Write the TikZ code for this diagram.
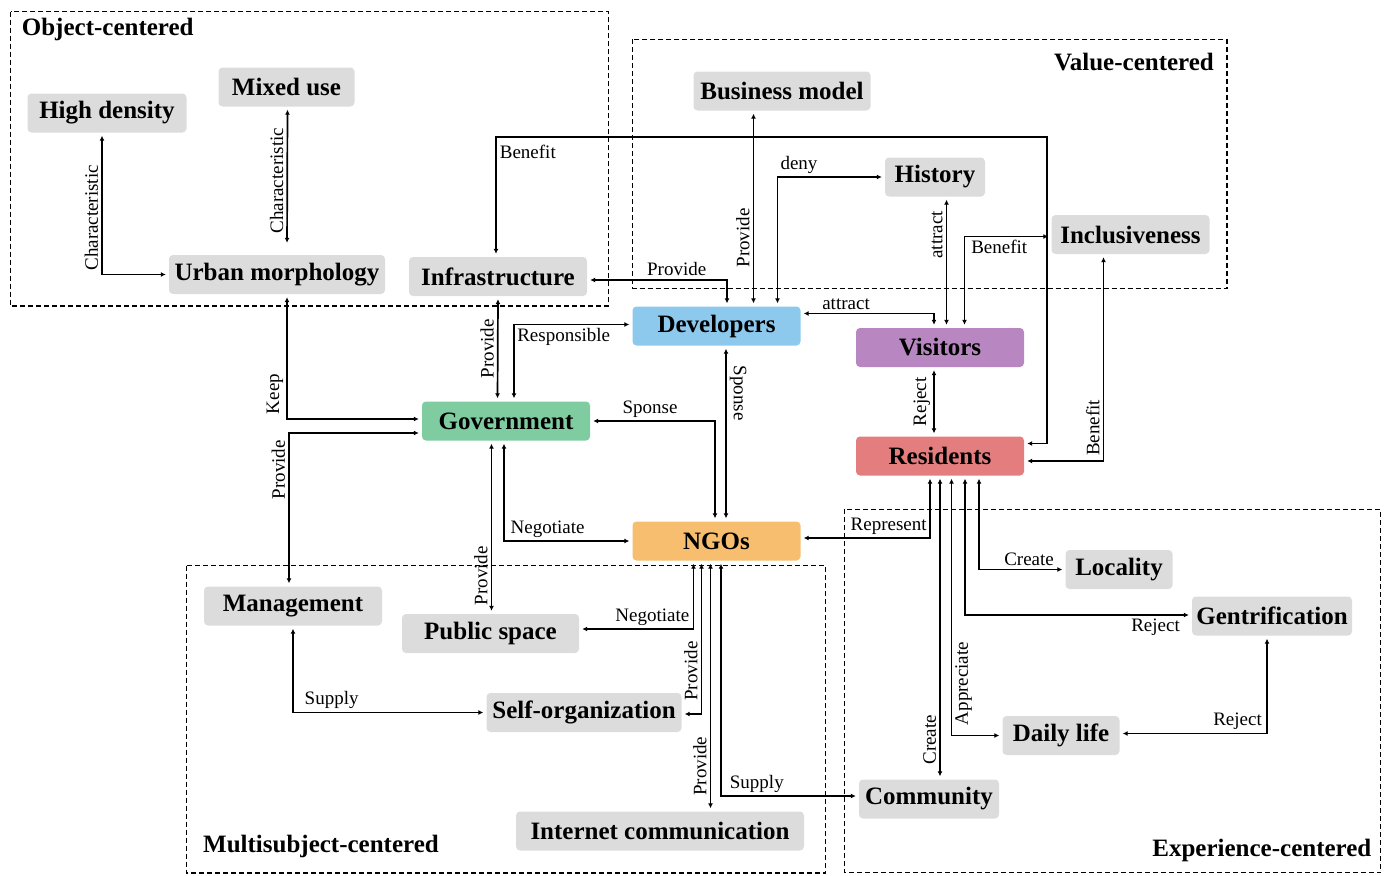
\documentclass[tikz,border=0pt]{standalone}
\usepackage{fontspec}
\setmainfont{Liberation Serif}
\usetikzlibrary{arrows.meta}
\definecolor{boxgray}{RGB}{220,220,220}
\definecolor{devblue}{RGB}{140,201,236}
\definecolor{vispurple}{RGB}{184,134,192}
\definecolor{govgreen}{RGB}{126,204,160}
\definecolor{resred}{RGB}{228,125,125}
\definecolor{ngoorange}{RGB}{246,190,110}
\begin{document}
\begin{tikzpicture}[x=1pt,y=-1pt,
    box/.style={fill=boxgray, rounded corners=4pt, minimum height=39pt, inner sep=2pt, font=\fontsize{25}{28}\selectfont\bfseries},
    link/.style={{Latex[length=5pt,width=5pt]}-{Latex[length=5pt,width=5pt]}, line width=1.7pt, shorten <=3pt, shorten >=3pt},
    lbl/.style={font=\fontsize{19}{22}\selectfont, inner sep=3pt},
    zone/.style={dash pattern=on 5pt off 3pt, line width=1.3pt},
    zonetitle/.style={font=\fontsize{25}{28}\selectfont\bfseries, inner sep=0pt}]
    \useasboundingbox (0,0) rectangle (1391,875);
    % dashed groups
    \draw[zone] (10.5,11.7) rectangle (608.5,306);
    \draw[zone] (632.6,39.3) rectangle (1227,288.3);
    \draw[zone] (186.5,565.5) rectangle (825.5,873);
    \draw[zone] (844.3,509.3) rectangle (1380.8,872.7);
    \node[zonetitle, anchor=west] (tobj) at (21.7,29) {Object-centered};
    \node[zonetitle, anchor=east] (tval) at (1214,62) {Value-centered};
    \node[zonetitle, anchor=west] (tmul) at (203,846) {Multisubject-centered};
    \node[zonetitle, anchor=east] (texp) at (1371.5,850) {Experience-centered};
    % nodes
    \node[box, minimum width=159pt] (hd) at (107,113) {High density};
    \node[box, minimum width=136pt] (mu) at (286.5,87) {Mixed use};
    \node[box, minimum width=216pt] (um) at (277,274.5) {Urban morphology};
    \node[box, minimum width=178pt] (inf) at (498,276.5) {Infrastructure};
    \node[box, minimum width=177pt] (bm) at (782,91) {Business model};
    \node[box, minimum width=100pt] (his) at (935,177) {History};
    \node[box, minimum width=158pt] (inc) at (1130.5,234.5) {Inclusiveness};
    \node[box, fill=devblue, minimum width=168pt] (dev) at (716.5,326) {Developers};
    \node[box, fill=vispurple, minimum width=168pt] (vis) at (940,347.5) {Visitors};
    \node[box, fill=govgreen, minimum width=168pt] (gov) at (506,421) {Government};
    \node[box, fill=resred, minimum width=168pt] (res) at (940,456) {Residents};
    \node[box, fill=ngoorange, minimum width=168pt] (ngo) at (716.5,541) {NGOs};
    \node[box, minimum width=178pt] (mgt) at (293,606) {Management};
    \node[box, minimum width=177pt] (pub) at (490.5,633.5) {Public space};
    \node[box, minimum width=195pt] (slf) at (584,712.5) {Self-organization};
    \node[box, minimum width=288pt] (net) at (660,831) {Internet communication};
    \node[box, minimum width=107pt] (loc) at (1119,569.5) {Locality};
    \node[box, minimum width=160pt] (gen) at (1272,616) {Gentrification};
    \node[box, minimum width=117pt] (day) at (1061,735.5) {Daily life};
    \node[box, minimum width=140pt] (com) at (929,799) {Community};
    % connectors
    \draw[link] ([xshift=-5pt]hd.south) |- node[lbl, pos=0.3, rotate=90, above] {Characteristic} (um.west);
    \draw[link, shorten >=12pt] ([xshift=1pt]mu.south) -- node[lbl, midway, rotate=90, above] {Characteristic} ([xshift=10pt]um.north);
    \draw[link] ([xshift=-2pt]inf.north) -- node[lbl, pos=0.88, right] {Benefit} ++(0,-119.5) -| ([xshift=22.7pt,yshift=12.5pt]res.east) -- ([yshift=12.5pt]res.east);
    \draw[link] ([yshift=-3.5pt]inf.east) -| node[lbl, pos=0.32, above] {Provide} ([xshift=10.5pt]dev.north);
    \draw[link] ([xshift=-28.5pt]bm.south) -- node[lbl, pos=0.65, rotate=90, above] {Provide} ([xshift=37pt]dev.north);
    \draw[link] ([xshift=61pt]dev.north) |- node[lbl, pos=0.6, above] {deny} (his.west);
    \draw[link] ([xshift=11.5pt]his.south) -- node[lbl, pos=0.29, rotate=90, above] {attract} ([xshift=6.5pt]vis.north);
    \draw[link] ([xshift=24.5pt]vis.north) |- node[lbl, pos=0.7, below] {Benefit} ([yshift=-2pt]inc.west);
    \draw[link] ([yshift=12.5pt]dev.east) -| node[lbl, pos=0.17, above] {attract} ([xshift=-6pt]vis.north);
    \draw[link] (inf.south) -- node[lbl, midway, rotate=90, above] {Provide} ([xshift=-8.5pt]gov.north);
    \draw[link] ([xshift=8pt]gov.north) |- node[lbl, pos=0.71, below] {Responsible} ([yshift=1.5pt]dev.west);
    \draw[link] ([xshift=9.5pt]dev.south) -- node[lbl, pos=0.27, rotate=-90, above] {Sponse} ([xshift=9.5pt]ngo.north);
    \draw[link] ([xshift=-1.5pt]ngo.north) |- node[lbl, pos=0.76, above] {Sponse} (gov.east);
    \draw[link] ([xshift=-2pt]gov.south) |- node[lbl, pos=0.67, above] {Negotiate} (ngo.west);
    \draw[link] ([xshift=-14.5pt]gov.south) -- node[lbl, pos=0.78, rotate=90, above] {Provide} ([xshift=1pt]pub.north);
    \draw[link] ([xshift=10pt]um.south) |- node[lbl, pos=0.4, rotate=90, above] {Keep} ([yshift=2pt]gov.west);
    \draw[link] ([yshift=-12pt]gov.west) -| node[lbl, pos=0.62, rotate=90, above] {Provide} ([xshift=-4pt]mgt.north);
    \draw[link] (mgt.south) |- node[lbl, pos=0.6, above] {Supply} (slf.west);
    \draw[link] ([xshift=-23pt]ngo.south) |- node[lbl, pos=0.68, above] {Negotiate} ([yshift=4.5pt]pub.east);
    \draw[link] ([xshift=-15pt]ngo.south) |- node[lbl, pos=0.36, rotate=90, above] {Provide} ([yshift=-1.5pt]slf.east);
    \draw[link] ([xshift=-6pt]ngo.south) -- node[lbl, pos=0.82, rotate=90, above] {Provide} ([xshift=50.5pt]net.north);
    \draw[link] ([xshift=4.5pt]ngo.south) |- node[lbl, pos=0.63, above] {Supply} ([yshift=3pt]com.west);
    \draw[link] ([xshift=-10pt]res.south) |- node[lbl, pos=0.66, above] {Represent} ([yshift=3pt]ngo.east);
    \draw[link] (res.south) -- node[lbl, pos=0.87, rotate=90, above] {Create} ([xshift=11pt]com.north);
    \draw[link] ([xshift=11.5pt]res.south) |- node[lbl, pos=0.4, rotate=90, below] {Appreciate} (day.west);
    \draw[link] ([xshift=25pt]res.south) |- node[lbl, pos=0.92, below] {Reject} ([yshift=1pt]gen.west);
    \draw[link] ([xshift=39pt]res.south) |- node[lbl, pos=0.79, above] {Create} (loc.west);
    \draw[link] ([yshift=2pt]day.east) -| node[lbl, pos=0.4, above] {Reject} ([xshift=-5pt]gen.south);
    \draw[link] ([xshift=-6pt]vis.south) -- node[lbl, midway, rotate=90, above] {Reject} ([xshift=-6pt]res.north);
    \draw[link] ([xshift=-27pt]inc.south) |- node[lbl, pos=0.42, rotate=90, above] {Benefit} ([yshift=-5pt]res.east);
\end{tikzpicture}
\end{document}
